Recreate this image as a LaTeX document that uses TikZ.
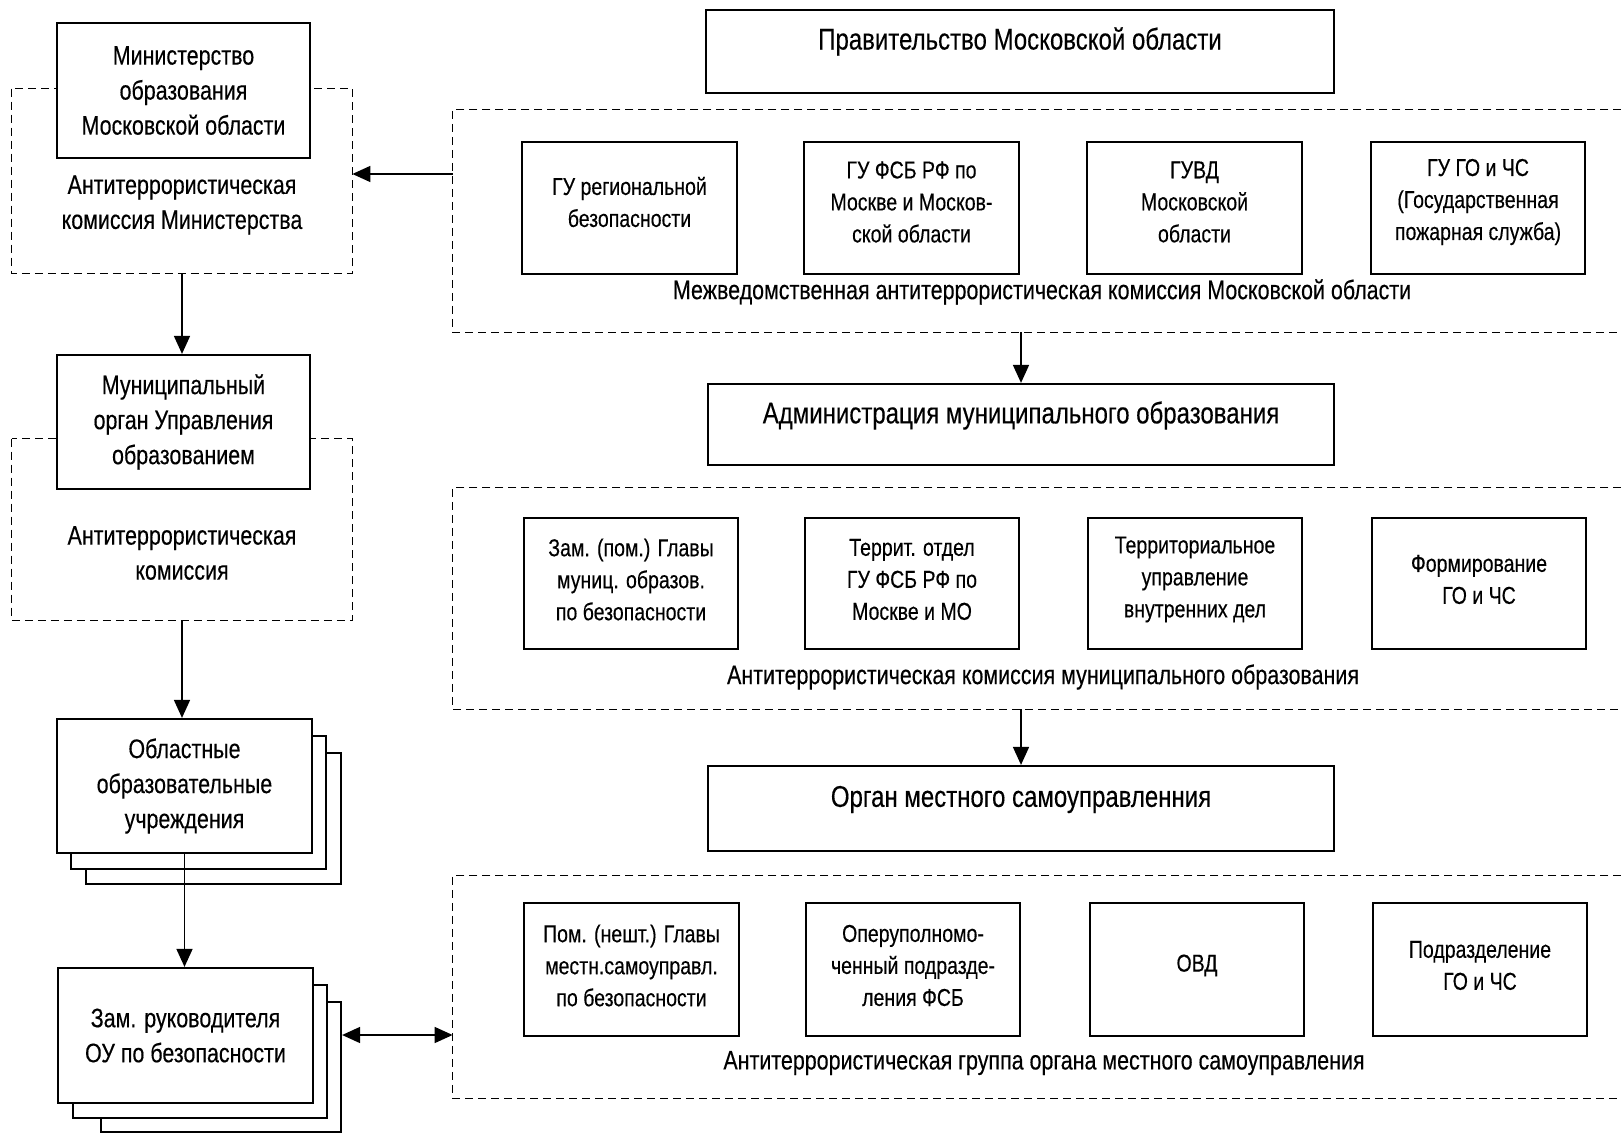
\documentclass[tikz,border=0pt]{standalone}
\usepackage{fontspec}
\setmainfont{Liberation Sans}[FakeStretch=0.8,FakeBold=0.3]
\usetikzlibrary{arrows.meta,calc,fit}
\begin{document}
\begin{tikzpicture}[x=0.5pt,y=-0.5pt,
 box/.style={draw, line width=1.1pt, fill=white, inner sep=0pt},
 frame/.style={draw=none, inner sep=0pt},
 dashline/.style={line width=0.8pt, dash pattern=on 4pt off 2.5pt},
 arr/.style={line width=0.8pt, -{Triangle[length=9pt,width=8pt]}},
 darr/.style={line width=0.8pt, {Triangle[length=9pt,width=8pt]}-{Triangle[length=9pt,width=8pt]}},
 bigtxt/.style={font=\fontsize{15}{17}\selectfont, inner sep=0pt, align=center},
 midtxt/.style={font=\fontsize{13.4}{17.5}\selectfont, inner sep=0pt, align=center},
 smalltxt/.style={font=\fontsize{12.2}{16}\selectfont, inner sep=0pt, align=center},
]
\useasboundingbox (0,0) rectangle (1621,1134);
\fill[white] (0,0) rectangle (1621,1134);

% ---------- left column ----------
\node[frame, fit={(12,89) (352,273)}] (lk1) {};
\draw[dashline] (lk1.north west) rectangle (lk1.south east);
\node[box, fit={(57,23) (310,158)}] (min) {};
\node[midtxt] (min-t) at (min.center) {Министерство\\образования\\Московской области};
\node[midtxt] (lk1-t) at (182,205) {Антитеррористическая\\комиссия Министерства};

\node[frame, fit={(12,439) (352,620)}] (lk2) {};
\draw[dashline] (lk2.north west) rectangle (lk2.south east);
\node[box, fit={(57,355) (310,489)}] (mun) {};
\node[midtxt] (mun-t) at (mun.center) {Муниципальный\\орган Управления\\образованием};
\node[midtxt] (lk2-t) at (182,553) {Антитеррористическая\\комиссия};

\node[box, fit={(86,753) (341,884)}] (obl3) {};
\node[box, fit={(71,736) (326,869)}] (obl2) {};
\node[box, fit={(57,719) (312,853)}] (obl) {};
\node[midtxt] (obl-t) at (obl.center) {Областные\\образовательные\\учреждения};

\node[box, fit={(101,1002) (341,1132)}] (zam3) {};
\node[box, fit={(73,985) (327,1118)}] (zam2) {};
\node[box, fit={(58,968) (313,1103)}] (zam) {};
\node[midtxt] (zam-t) at (zam.center) {Зам. руководителя\\ОУ по безопасности};

\draw[arr] (lk1.south) -- (lk1.south |- mun.north);
\draw[arr] (lk2.south) -- (lk2.south |- obl.north);
\draw[arr] (obl.south) -- (obl.south |- zam.north);

% ---------- right column ----------
\node[box, fit={(706,10) (1334,93)}] (gov) {};
\node[bigtxt] (gov-t) at ($(gov.center)+(0,-10)$) {Правительство Московской области};

\node[frame, fit={(453,110) (1621,332)}] (mvk) {};
\draw[dashline] (mvk.north east) -- (mvk.north west) -- (mvk.south west) -- (mvk.south east);
\node[box, fit={(522,142) (737,274)}] (b11) {};
\node[smalltxt] (b11-t) at ($(b11.center)+(0,-6)$) {ГУ региональной\\безопасности};
\node[box, fit={(804,142) (1019,274)}] (b12) {};
\node[smalltxt] (b12-t) at ($(b12.center)+(0,-6)$) {ГУ ФСБ РФ по\\Москве и Москов-\\ской области};
\node[box, fit={(1087,142) (1302,274)}] (b13) {};
\node[smalltxt] (b13-t) at ($(b13.center)+(0,-6)$) {ГУВД\\Московской\\области};
\node[box, fit={(1371,142) (1585,274)}] (b14) {};
\node[smalltxt] (b14-t) at ($(b14.center)+(0,-6)$) {ГУ ГО и ЧС\\(Государственная\\пожарная служба)};
\node[midtxt] (mvk-t) at (1042,292) {Межведомственная антитеррористическая комиссия Московской области};

\coordinate (c1) at (453,174);
\draw[arr] (c1) -- (c1 -| lk1.east);

\node[box, fit={(708,384) (1334,465)}] (adm) {};
\node[bigtxt] (adm-t) at ($(adm.center)+(0,-9)$) {Администрация муниципального образования};
\draw[arr] (mvk.south -| adm.north) -- (adm.north);

\node[frame, fit={(453,488) (1621,709)}] (akm) {};
\draw[dashline] (akm.north east) -- (akm.north west) -- (akm.south west) -- (akm.south east);
\node[box, fit={(524,518) (738,649)}] (b21) {};
\node[smalltxt] (b21-t) at ($(b21.center)+(0,-4)$) {Зам. (пом.) Главы\\муниц. образов.\\по безопасности};
\node[box, fit={(805,518) (1019,649)}] (b22) {};
\node[smalltxt] (b22-t) at ($(b22.center)+(0,-4)$) {Террит. отдел\\ГУ ФСБ РФ по\\Москве и МО};
\node[box, fit={(1088,518) (1302,649)}] (b23) {};
\node[smalltxt] (b23-t) at ($(b23.center)+(0,-4)$) {Территориальное\\управление\\внутренних дел};
\node[box, fit={(1372,518) (1586,649)}] (b24) {};
\node[smalltxt] (b24-t) at ($(b24.center)+(0,-4)$) {Формирование\\ГО и ЧС};
\node[midtxt] (akm-t) at (1043,677) {Антитеррористическая комиссия муниципального образования};

\node[box, fit={(708,766) (1334,851)}] (org) {};
\node[bigtxt] (org-t) at ($(org.center)+(0,-9)$) {Орган местного самоуправленния};
\draw[arr] (akm.south -| org.north) -- (org.north);

\node[frame, fit={(453,876) (1621,1098)}] (agr) {};
\draw[dashline] (agr.north east) -- (agr.north west) -- (agr.south west) -- (agr.south east);
\node[box, fit={(524,903) (739,1036)}] (b31) {};
\node[smalltxt] (b31-t) at ($(b31.center)+(0,-4)$) {Пом. (нешт.) Главы\\местн.самоуправл.\\по безопасности};
\node[box, fit={(806,903) (1020,1036)}] (b32) {};
\node[smalltxt] (b32-t) at ($(b32.center)+(0,-4)$) {Оперуполномо-\\ченный подразде-\\ления ФСБ};
\node[box, fit={(1090,903) (1304,1036)}] (b33) {};
\node[smalltxt] (b33-t) at ($(b33.center)+(0,-4)$) {ОВД};
\node[box, fit={(1373,903) (1587,1036)}] (b34) {};
\node[smalltxt] (b34-t) at ($(b34.center)+(0,-4)$) {Подразделение\\ГО и ЧС};
\node[midtxt] (agr-t) at (1044,1063) {Антитеррористическая группа органа местного самоуправления};

\coordinate (c2) at (341,1035);
\draw[darr] (zam3.east |- c2) -- (agr.west |- c2);
\end{tikzpicture}
\end{document}
